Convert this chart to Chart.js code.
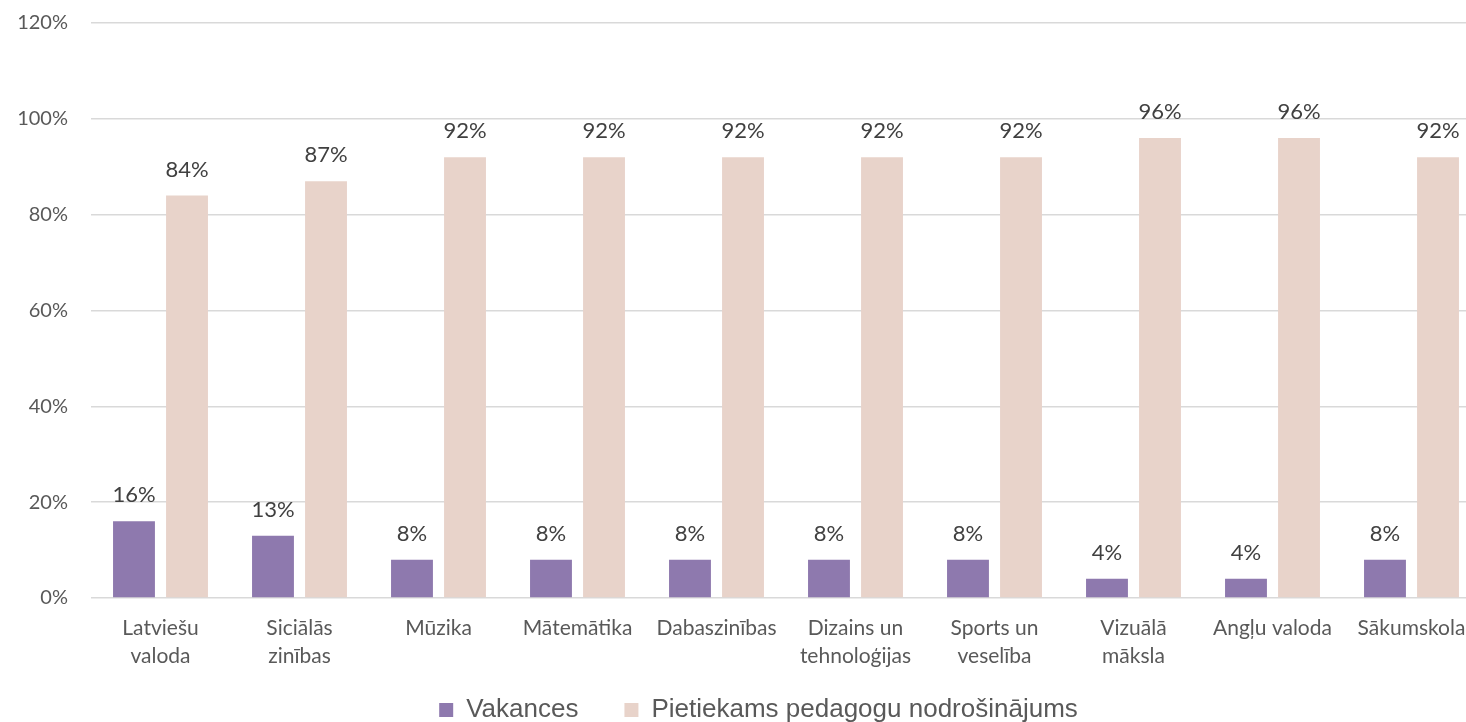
<!DOCTYPE html>
<html>
<head>
<meta charset="utf-8">
<script src="https://cdn.jsdelivr.net/npm/chart.js@4.4.1/dist/chart.umd.min.js"></script>
<style>
    html, body { margin: 0; padding: 0; background: #ffffff; overflow: hidden; }
    #wrap { width: 1466px; height: 722px; overflow: hidden; }
    canvas { display: block; }
</style>
</head>
<body>
<div id="wrap">
    <canvas id="overview" width="1517" height="733"></canvas>
</div>
<script>
/* globals Chart: false */

var categories = [
    ["Latviešu", "valoda"],
    ["Siciālās", "zinības"],
    "Mūzika",
    "Mātemātika",
    "Dabaszinības",
    ["Dizains un", "tehnoloģijas"],
    ["Sports un", "veselība"],
    ["Vizuālā", "māksla"],
    "Angļu valoda",
    "Sākumskola"
];
var vakances = [16, 13, 8, 8, 8, 8, 8, 4, 4, 8];
var nodrosinajums = [84, 87, 92, 92, 92, 92, 92, 96, 96, 92];
var yTicks = [0, 20, 40, 60, 80, 100, 120];

// draws the value above each bar (no datalabels plugin offline)
var valueLabels = {
    id: 'valueLabels',
    afterLayout: function(chart) {
        // let the two-line category labels run below the short x axis box
        var x = chart.scales.x;
        x.bottom = x.top + 90;
    },
    afterDatasetsDraw: function(chart) {
        var ctx = chart.ctx;
        ctx.save();
        ctx.font = '22px Lato';
        ctx.fillStyle = '#404040';
        ctx.textAlign = 'center';
        ctx.textBaseline = 'alphabetic';
        chart.data.datasets.forEach(function(ds, i) {
            var meta = chart.getDatasetMeta(i);
            meta.data.forEach(function(bar, j) {
                ctx.fillText(ds.data[j] + '%', bar.x, bar.y - 19);
            });
        });
        ctx.restore();
    }
};

var config = {
    type: 'bar',
    data: {
        labels: categories,
        datasets: [
            {
                label: "Vakances",
                data: vakances,
                backgroundColor: "#8e79ae"
            },
            {
                label: "Pietiekams pedagogu nodrošinājums",
                data: nodrosinajums,
                backgroundColor: "#e8d3ca"
            }
        ]
    },
    options: {
        responsive: false,
        animation: false,
        devicePixelRatio: 1,
        layout: {
            padding: { top: 23, left: 0, right: 0, bottom: 0 }
        },
        datasets: {
            bar: {
                categoryPercentage: 0.763,
                barPercentage: 0.79
            }
        },
        scales: {
            x: {
                grid: { display: false, drawTicks: false },
                border: { display: false },
                ticks: {
                    color: '#595959',
                    font: { family: 'Lato', size: 21, lineHeight: 1.33 },
                    padding: 16,
                    maxRotation: 0,
                    autoSkip: false
                },
                afterFit: function(scale) {
                    scale.height = 53;
                    scale.paddingLeft = 0;
                    scale.paddingRight = 0;
                }
            },
            y: {
                min: 0,
                max: 120,
                afterBuildTicks: function(scale) {
                    scale.ticks = yTicks.map(function(v) { return { value: v }; });
                },
                grid: { color: '#d9d9d9', lineWidth: 1.5, drawTicks: false },
                border: { display: false },
                ticks: {
                    color: '#595959',
                    font: { family: 'Lato', size: 20 },
                    padding: 23,
                    callback: function(v) { return v + '%'; }
                },
                afterFit: function(scale) {
                    scale.width = 91;
                    scale.paddingTop = 0;
                    scale.paddingBottom = 0;
                }
            },
            y2: {
                position: 'right',
                grid: { display: false, drawTicks: false },
                border: { display: false },
                ticks: { display: false },
                afterFit: function(scale) {
                    scale.width = 36;
                }
            }
        },
        plugins: {
            legend: {
                position: 'bottom',
                labels: {
                    boxWidth: 14,
                    boxHeight: 14,
                    padding: 46,
                    color: '#595959',
                    font: { family: 'Liberation Sans', size: 26 }
                }
            },
            tooltip: { enabled: false }
        }
    },
    plugins: [valueLabels]
};

var ctx = document.getElementById("overview").getContext("2d");
var myNewChart = new Chart(ctx, config);
</script>
</body>
</html>
